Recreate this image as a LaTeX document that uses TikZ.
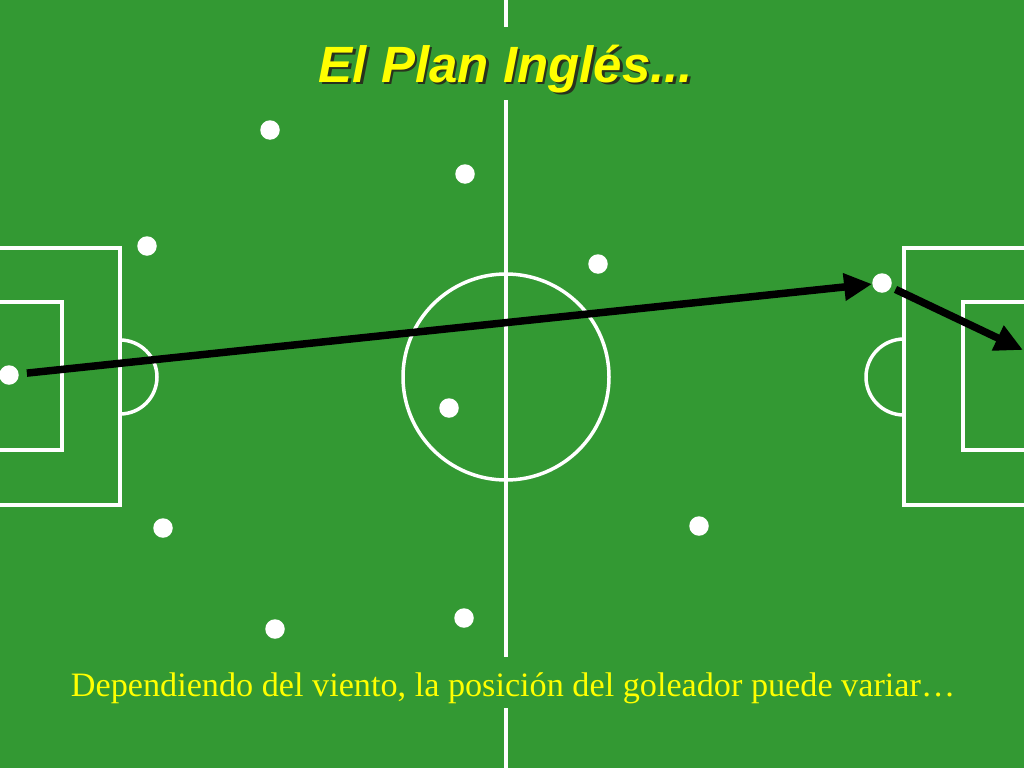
\documentclass[tikz,border=0pt]{standalone}
\usepackage{fontspec}
\setmainfont{Liberation Serif}
\newfontfamily\titlefont{Liberation Sans}
\usetikzlibrary{arrows.meta}
\definecolor{pitch}{RGB}{51,153,51}
\definecolor{titleyellow}{RGB}{255,255,0}
\definecolor{titleshadow}{RGB}{40,50,30}
\newcommand{\shadowed}[1]{\makebox[0pt][l]{\hspace{2.5pt}\raisebox{-2.5pt}{\textcolor{titleshadow}{#1}}}#1}
\tikzset{
  chalkline/.style={draw=white, line width=3.5pt},
  player/.style={circle, fill=white, inner sep=0pt, minimum size=19.5pt},
  pass/.style={line width=7.5pt, -{Triangle[length=28pt,width=26pt]}},
}

\begin{document}
\begin{tikzpicture}[x=1pt,y=-1pt]
      \fill[pitch] (0,0) rectangle (1024,768);
      \useasboundingbox (0,0) rectangle (1024,768);
      
      % halfway line and centre circle
      \draw[chalkline] (506,0) -- (506,27);
      \draw[chalkline] (506,100) -- (506,657);
      \draw[chalkline] (506,708) -- (506,768);
      \draw[chalkline] (506,377) circle (103);
      
      % left area
      \draw[chalkline] (-5,248) -- (120,248) -- (120,505) -- (-5,505);
      \draw[chalkline] (-5,302) -- (62,302) -- (62,450) -- (-5,450);
      \draw[chalkline] (120,340) arc (-90:90:37);
      
      % right area
      \draw[chalkline] (1029,248) -- (904,248) -- (904,505) -- (1029,505);
      \draw[chalkline] (1029,302) -- (963,302) -- (963,450) -- (1029,450);
      \draw[chalkline] (904,339) arc (-90:-270:38);
      
      \foreach \x/\y/\name in {9/375/keeper, 147/246/backA, 163/528/backB, 270/130/wingA, 275/629/wingB,
                               465/174/midA, 449/408/midB, 464/618/midC, 598/264/fwdA, 699/526/fwdB, 882/283/striker} {
      \node[player] (\name) at (\x,\y) {};
      }
      
      \coordinate (goal) at (1023,350);
      \draw[pass, shorten <=8pt] (keeper) -- (striker);
      \draw[pass, shorten <=5pt] (striker) -- (goal);
      
      \node[font=\titlefont\bfseries\itshape\fontsize{51}{60}\selectfont, text=titleyellow, anchor=base] (title) at (506,82) {\shadowed{El Plan Inglés...}};
      
      \node[font=\fontsize{34.2}{40}\selectfont, text=titleyellow, anchor=base] (caption) at (513,696) {Dependiendo del viento, la posición del goleador puede variar…};
      
    \end{tikzpicture}
\end{document}
